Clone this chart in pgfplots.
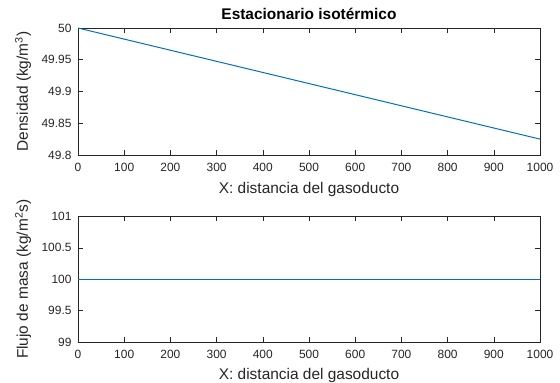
\documentclass[border=0pt]{standalone}
\usepackage{fontspec}
\setmainfont{Liberation Sans}
\usepackage{pgfplots}
\pgfplotsset{compat=1.18}
\definecolor{mblue}{rgb}{0,0.447,0.741}
\definecolor{axgray}{rgb}{0.15,0.15,0.15}
\pgfplotsset{
  matlab/.style={
    scale only axis,
    width=462bp,
    anchor=south west,
    xmin=0, xmax=1000,
    xtick={0,100,...,1000},
    axis line style={axgray, line width=0.6bp},
    tick style={axgray, line width=0.6bp},
    tick align=inside,
    major tick length=5bp,
    xtick pos=both, ytick pos=both,
    ticklabel style={font=\fontsize{12}{14}\selectfont, text=axgray},
    /pgf/number format/assume math mode=true,
    /pgf/number format/1000 sep={},
    xticklabel style={yshift=-4.5bp},
    yticklabel style={xshift=-3bp},
    label style={font=\fontsize{15.5}{18}\selectfont, text=axgray},
    xlabel style={at={(axis description cs:0.5,-0.27)}, anchor=center},
    ylabel style={at={(axis description cs:-0.119,0.5)}, anchor=center},
    xlabel={X: distancia del gasoducto},
  }
}
\begin{document}
\begin{tikzpicture}
\path[use as bounding box] (0bp,0bp) rectangle (560bp,383bp);
\begin{axis}[matlab,
  at={(78bp,228bp)},
  height=127bp,
  ymin=49.8, ymax=50,
  ytick={49.8,49.85,49.9,49.95,50},
  yticklabels={49.8,49.85,49.9,49.95,50},
  ylabel={Densidad (kg/m\textsuperscript{3})},
  title={Estacionario isotérmico},
  title style={font=\fontsize{15.5}{18}\selectfont\bfseries, text=black, at={(axis description cs:0.5,1.06)}, anchor=center},
]
\addplot[mblue, line width=1bp] coordinates {(0,50) (1000,49.825)};
\end{axis}
\begin{axis}[matlab,
  at={(78bp,41bp)},
  height=125.5bp,
  ymin=99, ymax=101,
  ytick={99,99.5,100,100.5,101},
  yticklabels={99,99.5,100,100.5,101},
  ylabel={Flujo de masa (kg/m\textsuperscript{2}s)},
]
\addplot[mblue, line width=1bp] coordinates {(0,100) (1000,100)};
\end{axis}
\end{tikzpicture}
\end{document}
